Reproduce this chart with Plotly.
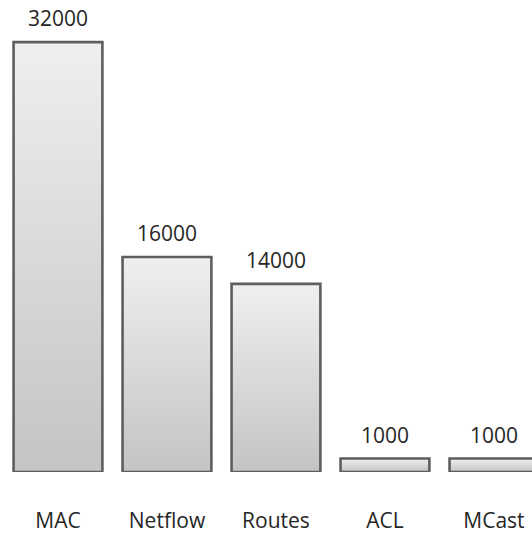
import plotly.graph_objects as go

categories = ["MAC", "Netflow", "Routes", "ACL", "MCast"]
values = [32000, 16000, 14000, 1000, 1000]

BAR_WIDTH = 0.815
FONT = dict(family="Open Sans, Liberation Sans, sans-serif", size=21, color="#262626")

fig = go.Figure()

# each bar is a filled polygon so that it can carry its own vertical gradient
for i, (cat, val) in enumerate(zip(categories, values)):
    x0, x1 = i - BAR_WIDTH / 2, i + BAR_WIDTH / 2
    fig.add_trace(go.Scatter(
        x=[x0, x0, x1, x1, x0],
        y=[0, val, val, 0, 0],
        mode="lines",
        fill="toself",
        fillgradient=dict(
            type="vertical",
            colorscale=[[0, "#c4c4c4"], [1, "#efefef"]],
        ),
        line=dict(color="#5e5e5e", width=2.6),
        cliponaxis=False,
        name=cat,
        hoverinfo="skip",
        showlegend=False,
    ))
    fig.add_annotation(
        x=i, y=val, text=str(val),
        showarrow=False, yanchor="bottom", yshift=8,
        font=FONT,
    )

fig.update_layout(
    width=532,
    height=534,
    margin=dict(l=0, r=0, t=0, b=62),
    paper_bgcolor="white",
    plot_bgcolor="white",
    xaxis=dict(
        range=[-0.532, 4.349],
        tickmode="array",
        tickvals=list(range(len(categories))),
        ticktext=categories,
        tickfont=FONT,
        showgrid=False,
        zeroline=False,
        showline=False,
        ticks="",
        ticklabelstandoff=34,
    ),
    yaxis=dict(
        range=[0, 35133],
        visible=False,
        showgrid=False,
        zeroline=False,
    ),
)

# drop the page's default body margin so the figure sits flush in the window
fig.write_html(
    "out.html",
    config={"displayModeBar": False},
    post_script="document.body.style.margin='0';document.body.style.overflow='hidden';",
)
